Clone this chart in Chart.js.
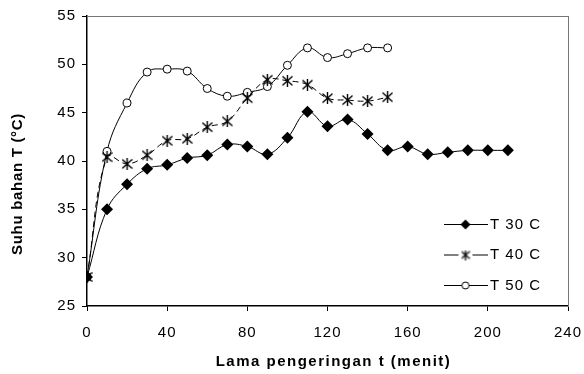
<!DOCTYPE html>
<html>
<head>
<meta charset="utf-8">
<script src="https://cdn.jsdelivr.net/npm/chart.js@4.4.1/dist/chart.umd.min.js"></script>
<style>
  html, body { margin: 0; padding: 0; background: #fff; }
  #wrap { width: 584px; height: 374px; }
</style>
</head>
<body>
<div id="wrap"><canvas id="c" width="584" height="374"></canvas></div>
<script>
// Drying time (minutes) for each run
const timesLong  = [0, 10, 20, 30, 40, 50, 60, 70, 80, 90, 100, 110, 120, 130, 140, 150, 160, 170, 180, 190, 200, 210];
const timesShort = [0, 10, 20, 30, 40, 50, 60, 70, 80, 90, 100, 110, 120, 130, 140, 150];

// Material temperature (°C)
const temp30 = [28, 35.0, 37.6, 39.2, 39.6, 40.3, 40.6, 41.7, 41.5, 40.7, 42.4, 45.1, 43.6, 44.3, 42.8, 41.1, 41.5, 40.7, 40.9, 41.1, 41.1, 41.1];
const temp40 = [28, 40.4, 39.7, 40.6, 42.1, 42.3, 43.5, 44.1, 46.5, 48.4, 48.3, 47.9, 46.5, 46.3, 46.2, 46.6];
const temp50 = [28, 41.0, 46.0, 49.2, 49.5, 49.3, 47.5, 46.7, 47.1, 47.7, 49.9, 51.7, 50.7, 51.1, 51.7, 51.7];

const seriesNames = ['T 30 C', 'T 40 C', 'T 50 C'];
const xTickValues = [0, 40, 80, 120, 160, 200, 240];
const yTickValues = [25, 30, 35, 40, 45, 50, 55];
const xTitle = 'Lama pengeringan t (menit)';
const yTitle = 'Suhu bahan T (°C)';

const FONT = 'Liberation Sans, Arial, Helvetica, sans-serif';

// Asterisk marker: an X crossed by a vertical stroke
function makeStar(w, h, lw) {
  const c = document.createElement('canvas');
  c.width = w; c.height = h;
  const g = c.getContext('2d');
  g.strokeStyle = '#000';
  g.lineWidth = lw;
  g.beginPath();
  g.moveTo(0.5, 1.5); g.lineTo(w - 0.5, h - 1.5);
  g.moveTo(w - 0.5, 1.5); g.lineTo(0.5, h - 1.5);
  g.moveTo(w / 2, 0); g.lineTo(w / 2, h);
  g.stroke();
  return c;
}
const starMarker = makeStar(11, 12, 1.4);

// Legend swatches: a short line with the series marker in its middle
function makeLegendIcon(kind) {
  const w = 44, hgt = 15;
  const c = document.createElement('canvas');
  c.width = w; c.height = hgt;
  const g = c.getContext('2d');
  const cy = 7.5, cx = 22;
  g.strokeStyle = '#000';
  g.lineWidth = 1;
  if (kind === 'star') {
    g.beginPath(); g.moveTo(0, cy); g.lineTo(cx - 7, cy); g.moveTo(cx + 7, cy); g.lineTo(w, cy); g.stroke();
    g.drawImage(makeStar(9, 10, 1.3), cx - 4.5, 2.5);
  } else {
    g.beginPath(); g.moveTo(0, cy); g.lineTo(w, cy); g.stroke();
    if (kind === 'diamond') {
      g.fillStyle = '#000';
      g.beginPath();
      g.moveTo(cx - 5, cy); g.lineTo(cx, cy - 5); g.lineTo(cx + 5, cy); g.lineTo(cx, cy + 5);
      g.closePath(); g.fill();
    } else {
      g.fillStyle = '#fff';
      g.beginPath(); g.arc(cx, cy, 3.5, 0, Math.PI * 2); g.fill(); g.stroke();
    }
  }
  return c;
}
const legendIcons = [makeLegendIcon('diamond'), makeLegendIcon('star'), makeLegendIcon('circle')];

const toPoints = (xs, ys) => xs.map((x, i) => ({ x: x, y: ys[i] }));

const tickFont = { family: FONT, size: 15 };

// Slightly spaced lettering for all chart text
const textSpacing = {
  id: 'textSpacing',
  beforeUpdate(chart) { chart.ctx.letterSpacing = '1px'; },
  beforeDraw(chart) { chart.ctx.letterSpacing = '1px'; }
};

// Places the legend in the lower right of the plot area
const legendPlacement = {
  id: 'legendPlacement',
  afterLayout(chart) {
    const lg = chart.legend;
    if (!lg) return;
    const area = chart.chartArea;
    lg.left = Math.round(area.right - 135);
    lg.right = area.right;
    lg.top = area.bottom - 104.5;
    lg.bottom = area.bottom + 200;
  }
};

// Bold axis titles, placed relative to the plot area
const axisTitles = {
  id: 'axisTitles',
  afterDraw(chart) {
    const { ctx, chartArea: a } = chart;
    ctx.save();
    ctx.fillStyle = '#000';
    ctx.font = 'bold 15px ' + FONT;
    ctx.textAlign = 'center';
    ctx.textBaseline = 'alphabetic';
    ctx.letterSpacing = '1.5px';
    ctx.fillText(xTitle, (a.left + a.right) / 2 + 6, a.bottom + 59.5);
    ctx.letterSpacing = '0.7px';
    ctx.translate(a.left - 65, (a.top + a.bottom) / 2 + 23);
    ctx.rotate(-Math.PI / 2);
    ctx.fillText(yTitle, 0, 0);
    ctx.restore();
  }
};

// Keep tick labels from shrinking the plot area
const noOverhang = (s) => { s.paddingLeft = 0; s.paddingRight = 0; s.paddingTop = 0; s.paddingBottom = 0; };

new Chart(document.getElementById('c'), {
  type: 'line',
  data: {
    datasets: [
      {
        label: seriesNames[0],
        data: toPoints(timesLong, temp30),
        borderColor: '#000', borderWidth: 1,
        pointStyle: 'rectRot', pointRadius: 6,
        pointBackgroundColor: '#000', pointBorderColor: '#000', pointBorderWidth: 0,
        tension: 0.4, xAxisID: 'x', yAxisID: 'y'
      },
      {
        label: seriesNames[1],
        data: toPoints(timesShort, temp40),
        borderColor: '#000', borderWidth: 1, borderDash: [6, 4],
        pointStyle: starMarker, pointRadius: 5,
        tension: 0.4, xAxisID: 'x', yAxisID: 'y'
      },
      {
        label: seriesNames[2],
        data: toPoints(timesShort, temp50),
        borderColor: '#000', borderWidth: 1,
        pointStyle: 'circle', pointRadius: 4,
        pointBackgroundColor: '#fff', pointBorderColor: '#000', pointBorderWidth: 1,
        tension: 0.4, xAxisID: 'x', yAxisID: 'y'
      }
    ]
  },
  options: {
    responsive: false,
    animation: false,
    devicePixelRatio: 1,
    layout: { padding: 0 },
    plugins: {
      tooltip: { enabled: false },
      legend: {
        position: 'chartArea',
        align: 'start',
        labels: {
          usePointStyle: true,
          pointStyleWidth: 34,
          padding: 15.5,
          color: '#000',
          font: { family: FONT, size: 15 },
          generateLabels: (chart) => chart.data.datasets.map((ds, i) => ({
            text: ds.label,
            pointStyle: legendIcons[i],
            fillStyle: '#000', strokeStyle: '#000', lineWidth: 0,
            hidden: false, datasetIndex: i, fontColor: '#000'
          }))
        }
      }
    },
    scales: {
      x: {
        type: 'linear', position: 'bottom', min: 0, max: 240,
        afterBuildTicks: (s) => { s.ticks = xTickValues.map(v => ({ value: v })); },
        afterFit: (s) => { s.height = 68; noOverhang(s); },
        grid: { display: true, drawOnChartArea: false, drawTicks: true, tickLength: 5, color: '#000' },
        border: { color: '#000', width: 1.5 },
        ticks: { color: '#000', font: tickFont, padding: 13, maxRotation: 0 }
      },
      y: {
        type: 'linear', position: 'left', min: 25, max: 55,
        afterBuildTicks: (s) => { s.ticks = yTickValues.map(v => ({ value: v })); },
        afterFit: (s) => { s.width = 87; noOverhang(s); },
        grid: { display: true, drawOnChartArea: false, drawTicks: true, tickLength: 5, color: '#000' },
        border: { color: '#000', width: 1.5 },
        ticks: { color: '#000', font: tickFont, padding: 6 }
      },
      xTop: {
        type: 'linear', position: 'top', min: 0, max: 240,
        afterFit: (s) => { s.height = 16; noOverhang(s); },
        grid: { display: false },
        border: { color: '#777', width: 1 },
        ticks: { display: false }
      },
      yRight: {
        type: 'linear', position: 'right', min: 25, max: 55,
        afterFit: (s) => { s.width = 16; noOverhang(s); },
        grid: { display: false },
        border: { color: '#777', width: 1 },
        ticks: { display: false }
      }
    }
  },
  plugins: [textSpacing, legendPlacement, axisTitles]
});
</script>
</body>
</html>
